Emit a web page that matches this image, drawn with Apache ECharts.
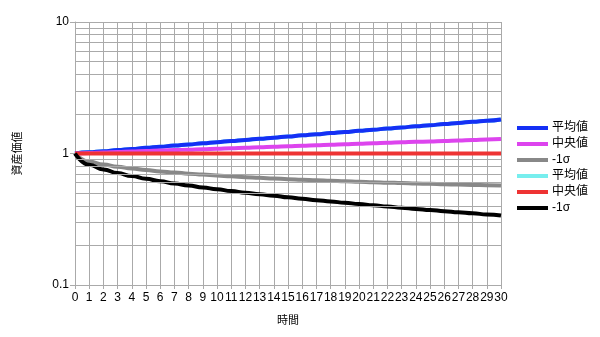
<!DOCTYPE html>
<html><head><meta charset="utf-8">
<script src="https://cdn.jsdelivr.net/npm/echarts@6/dist/echarts.min.js"></script>
<style>html,body{margin:0;padding:0;background:#fff}#c{width:600px;height:337px}</style>
</head><body><div id="c"></div>
<script>
const years = [0,1,2,3,4,5,6,7,8,9,10,11,12,13,14,15,16,17,18,19,20,21,22,23,24,25,26,27,28,29,30];
const legendLabels = ['平均値','中央値','-1σ','平均値','中央値','-1σ'];
const meanA = [1.000,1.020,1.041,1.061,1.083,1.104,1.126,1.149,1.172,1.196,1.220,1.244,1.269,1.294,1.320,1.347,1.374,1.401,1.429,1.458,1.487,1.517,1.547,1.578,1.610,1.642,1.675,1.709,1.743,1.778,1.814];
const medianA = [1.000,1.009,1.017,1.026,1.035,1.043,1.052,1.061,1.070,1.079,1.089,1.098,1.107,1.117,1.126,1.136,1.146,1.155,1.165,1.175,1.185,1.195,1.205,1.216,1.226,1.236,1.247,1.258,1.268,1.279,1.290];
const minusSigmaA = [1.000,0.869,0.824,0.793,0.768,0.748,0.731,0.716,0.703,0.691,0.680,0.670,0.661,0.653,0.645,0.638,0.632,0.626,0.620,0.614,0.609,0.604,0.600,0.596,0.591,0.588,0.584,0.580,0.577,0.574,0.571];
const meanB = [1.000,1.020,1.041,1.061,1.083,1.104,1.126,1.149,1.172,1.196,1.220,1.244,1.269,1.294,1.320,1.347,1.374,1.401,1.429,1.458,1.487,1.517,1.547,1.578,1.610,1.642,1.675,1.709,1.743,1.778,1.814];
const medianB = [1,1,1,1,1,1,1,1,1,1,1,1,1,1,1,1,1,1,1,1,1,1,1,1,1,1,1,1,1,1,1];
const minusSigmaB = [1.000,0.820,0.756,0.710,0.673,0.642,0.616,0.592,0.571,0.552,0.535,0.518,0.503,0.490,0.477,0.464,0.453,0.442,0.432,0.422,0.413,0.404,0.395,0.387,0.379,0.372,0.364,0.357,0.351,0.344,0.338];
const minorGridValues = [0.2,0.3,0.4,0.5,0.6,0.7,0.8,0.9,2,3,4,5,6,7,8,9];

const colors = ['#1530f5','#dd44ee','#888888','#77eeee','#ee3333','#000000'];
const seriesData = [meanA, medianA, minusSigmaA, meanB, medianB, minusSigmaB];
const zs = [3,3,3,2,3,4];
const FONT = 'Liberation Sans, Arial, Noto Sans CJK JP, sans-serif';

const series = seriesData.map((arr, i) => ({
  name: 's' + i,
  type: 'line',
  data: years.map((t, k) => [t, arr[k]]),
  showSymbol: false,
  smooth: 0.5,
  smoothMonotone: 'x',
  z: zs[i],
  color: colors[i],
  lineStyle: { width: 4, color: colors[i] },
  emphasis: { disabled: true }
}));
series.push({
  name: 'grid',
  type: 'line',
  data: [[0, 1]],
  showSymbol: false,
  z: 1,
  lineStyle: { opacity: 0 },
  silent: true,
  markLine: {
    silent: true,
    symbol: ['none', 'none'],
    label: { show: false },
    animation: false,
    lineStyle: { color: '#aaaaaa', width: 1, type: 'solid' },
    data: minorGridValues.map(v => ({ yAxis: v }))
  }
});

const chart = echarts.init(document.getElementById('c'), null, { renderer: 'canvas' });
chart.setOption({
  animation: false,
  textStyle: { fontFamily: FONT },
  grid: { left: 75, right: 99, top: 22, bottom: 52 },
  legend: {
    orient: 'vertical',
    left: 512,
    top: 117,
    itemWidth: 31,
    itemHeight: 4,
    itemGap: 4,
    icon: 'rect',
    data: ['s0','s1','s2','s3','s4','s5'],
    formatter: n => legendLabels[parseInt(n.slice(1))],
    textStyle: { fontSize: 12, color: '#000', fontFamily: FONT, lineHeight: 12, padding: [0,0,0,-1] }
  },
  xAxis: {
    type: 'value',
    min: 0, max: 30, interval: 1,
    name: '時間',
    nameLocation: 'middle',
    nameGap: 30,
    nameTextStyle: { fontSize: 11, color: '#000', fontFamily: FONT },
    axisLine: { show: true, lineStyle: { color: '#aaaaaa', width: 1 } },
    axisTick: { show: true, length: 4, lineStyle: { color: '#aaaaaa' } },
    axisLabel: { fontSize: 12, color: '#000', margin: 7, fontFamily: FONT },
    splitLine: { show: true, lineStyle: { color: '#aaaaaa', width: 1 } }
  },
  yAxis: {
    type: 'log',
    logBase: 10,
    min: 0.1, max: 10,
    name: '資産価値',
    nameLocation: 'middle',
    nameRotate: 90,
    nameGap: 52,
    nameTextStyle: { fontSize: 11, color: '#000', fontFamily: FONT },
    axisLine: { show: true, lineStyle: { color: '#aaaaaa', width: 1 } },
    axisTick: { show: true, length: 5, lineStyle: { color: '#aaaaaa' } },
    axisLabel: { fontSize: 12, color: '#000', margin: 6, fontFamily: FONT },
    splitLine: { show: true, lineStyle: { color: '#aaaaaa', width: 1 } },
    minorTick: { show: false },
    minorSplitLine: { show: false }
  },
  series: series
});
</script>
</body></html>
